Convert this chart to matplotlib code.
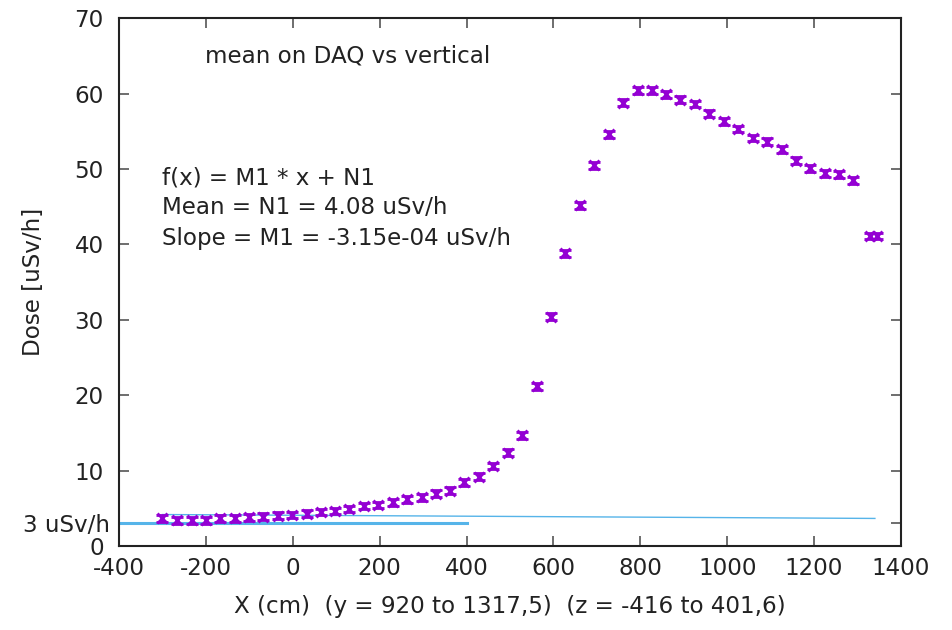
import matplotlib
matplotlib.use("Agg")
import matplotlib.pyplot as plt
import matplotlib.transforms as mtransforms
import numpy as np

plt.rcParams['font.family'] = ['DejaVu Sans']

x_cm = [-300, -266, -233, -200, -167, -134, -101, -68, -35, -1, 33, 65, 97, 130,
        165, 197, 230, 264, 297, 330, 362, 395, 429, 462, 495, 528, 562, 594, 627,
        661, 694, 728, 761, 794, 826, 859, 892, 926, 959, 993, 1026, 1059, 1091,
        1125, 1158, 1191, 1224, 1257, 1290, 1329, 1344]
dose = [3.67, 3.4, 3.4, 3.4, 3.67, 3.67, 3.8, 3.9, 4.02, 4.1, 4.3, 4.5, 4.65, 4.9,
        5.3, 5.45, 5.8, 6.2, 6.45, 6.93, 7.33, 8.44, 9.2, 10.6, 12.4, 14.7, 21.2,
        30.4, 38.8, 45.2, 50.5, 54.6, 58.8, 60.45, 60.45, 59.9, 59.2, 58.6, 57.3,
        56.3, 55.3, 54.1, 53.6, 52.6, 51.1, 50.1, 49.4, 49.3, 48.5, 41.1, 41.1]
dose_err = [0.45] * len(dose)

fit_N1 = 4.08
fit_M1 = -3.15e-04
fit_range = [-300, 1340]
ref_level = 3
ref_range = [-400, 400]

x_ticks = [-400, -200, 0, 200, 400, 600, 800, 1000, 1200, 1400]
y_ticks = [0, 10, 20, 30, 40, 50, 60, 70]

FS = 16.6
TC = '#222222'

fig = plt.figure(figsize=(9.53, 6.30), dpi=100)
ax = fig.add_axes([0.1249, 0.1333, 0.8205, 0.838])

purple = '#9400D3'
blue = '#56B4E9'

fx = np.array(fit_range, dtype=float)
ax.plot(fx, fit_M1 * fx + fit_N1, color=blue, lw=1.0, zorder=2)
ax.plot(ref_range, [ref_level, ref_level], color=blue, lw=2.2, zorder=2)

ax.errorbar(x_cm, dose, yerr=dose_err, fmt='x', color=purple, ms=7, mew=2,
            elinewidth=1.8, capsize=4.5, capthick=1.8, zorder=3)

ax.set_xlim(-400, 1400)
ax.set_ylim(0, 70)
ax.set_xticks(x_ticks)
ax.set_xticklabels([str(v) for v in x_ticks])
yt = y_ticks + [ref_level]
ax.set_yticks(yt)
ax.set_yticklabels([str(v) for v in y_ticks] + ['3 uSv/h'])

for s in ax.spines.values():
    s.set_linewidth(1.5)
    s.set_color(TC)
ax.tick_params(direction='in', length=7, width=1.2, color='#555555',
               top=True, right=True, labelsize=FS, labelcolor=TC)
ax.tick_params(axis='x', pad=8)
ax.tick_params(axis='y', pad=11)

ref_lbl = ax.get_yticklabels()[-1]
ref_lbl.set_transform(ref_lbl.get_transform() +
                      mtransforms.ScaledTranslation(6 / 100, 0, fig.dpi_scale_trans))

ax.set_xlabel('X (cm)  (y = 920 to 1317,5)  (z = -416 to 401,6)', fontsize=FS, color=TC)
ax.xaxis.label.set_va('center')
ax.xaxis.set_label_coords(0.5, -0.1155)
ax.set_ylabel('Dose [uSv/h]', fontsize=FS, color=TC)
ax.yaxis.label.set_va('center')
ax.yaxis.set_label_coords(-0.110, 0.50)

ax.text(-202, 65, 'mean on DAQ vs vertical', fontsize=FS, va='center', ha='left', color=TC)
ax.text(-302, 48.8, 'f(x) = M1 * x + N1', fontsize=FS, va='center', ha='left', color=TC)
ax.text(-302, 44.9, 'Mean = N1 = 4.08 uSv/h', fontsize=FS, va='center', ha='left', color=TC)
ax.text(-302, 40.8, 'Slope = M1 = -3.15e-04 uSv/h', fontsize=FS, va='center', ha='left', color=TC)

fig.savefig('out.png', dpi=100)
